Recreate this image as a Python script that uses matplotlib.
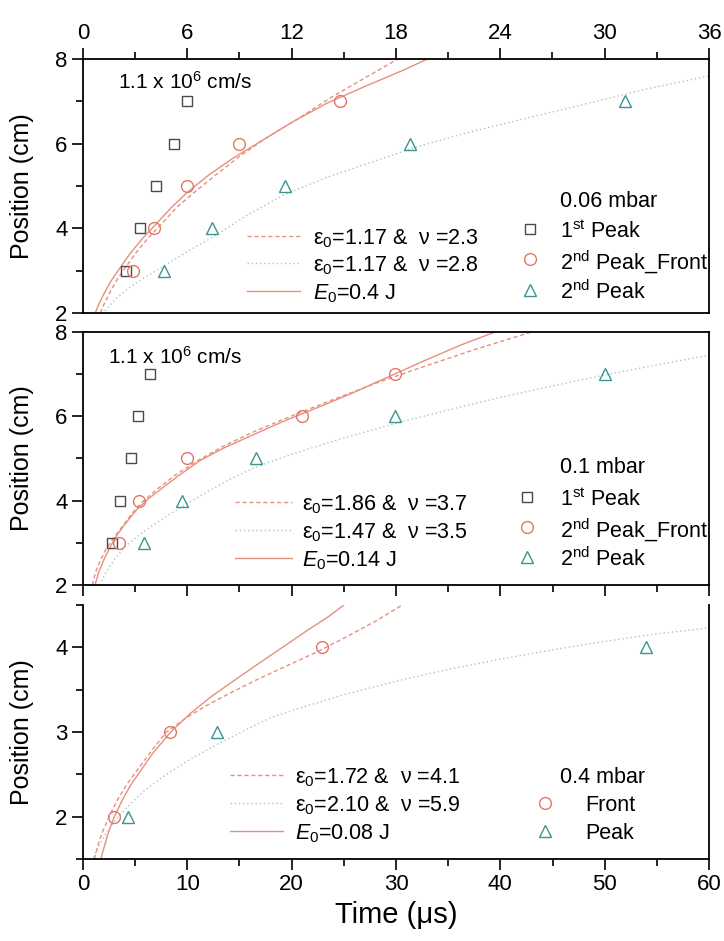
import matplotlib
matplotlib.use("Agg")
import matplotlib.pyplot as plt
from matplotlib.lines import Line2D
from matplotlib.ticker import MultipleLocator, FixedLocator

plt.rcParams['font.family'] = ['Liberation Sans', 'DejaVu Sans']
plt.rcParams['mathtext.fontset'] = 'custom'
plt.rcParams['mathtext.rm'] = 'Liberation Sans'
plt.rcParams['mathtext.it'] = 'Liberation Sans:italic'
plt.rcParams['mathtext.bf'] = 'Liberation Sans:bold'

# ---------------- data ----------------
pos_top = [3, 4, 5, 6, 7]
# 0.06 mbar (time axis 0-36 us)
t06_first = [2.45, 3.28, 4.21, 5.21, 5.98]
t06_front = [2.86, 4.08, 5.98, 8.99, 14.78]
t06_second = [4.66, 7.44, 11.62, 18.8, 31.17]
# fitted curves, points
c06_solid_t = [0.7, 0.9, 1.2, 1.6, 2.1, 2.7, 3.4, 4.2, 5.1, 6.0, 7.2, 8.6, 10.2, 12.0, 14.0, 16.2, 18.5, 19.8]
c06_solid_y = [2.0, 2.2, 2.45, 2.75, 3.05, 3.4, 3.75, 4.1, 4.5, 4.85, 5.25, 5.65, 6.05, 6.5, 6.95, 7.35, 7.75, 8.0]
c06_dash_t = [1.0, 1.2, 1.5, 1.9, 2.4, 3.0, 3.7, 4.5, 5.4, 6.4, 7.6, 9.0, 10.6, 12.4, 14.3, 16.2, 18.1]
c06_dash_y = [2.0, 2.2, 2.45, 2.75, 3.05, 3.4, 3.75, 4.1, 4.5, 4.85, 5.25, 5.7, 6.15, 6.6, 7.1, 7.55, 8.0]
c06_dot_t = [1.27, 1.8, 2.5, 3.4, 4.6, 6.0, 7.5, 9.4, 11.6, 14.0, 16.5, 19.0, 22.0, 25.5, 29.0, 32.5, 36.0]
c06_dot_y = [2.05, 2.3, 2.55, 2.8, 3.1, 3.45, 3.8, 4.3, 4.8, 5.2, 5.55, 5.9, 6.25, 6.6, 6.95, 7.3, 7.6]

# 0.1 mbar (time axis 0-60 us)
t01_first = [2.75, 3.55, 4.6, 5.24, 6.42]
t01_front = [3.48, 5.37, 9.94, 20.97, 29.9]
t01_second = [5.85, 9.46, 16.6, 29.9, 50.05]
c01_solid_t = [1.15, 1.5, 2.0, 2.6, 3.3, 4.2, 5.2, 6.3, 7.6, 9.2, 11.2, 13.5, 16.2, 19.2, 22.4, 25.8, 29.4, 33.0, 36.3, 39.5]
c01_solid_y = [2.0, 2.3, 2.6, 2.9, 3.2, 3.5, 3.8, 4.05, 4.3, 4.6, 4.95, 5.25, 5.55, 5.88, 6.2, 6.55, 6.95, 7.35, 7.7, 8.0]
c01_dash_t = [0.9, 1.2, 1.6, 2.2, 2.9, 3.8, 4.7, 5.6, 7.0, 8.8, 11.0, 13.5, 16.5, 20.1, 24.0, 28.0, 32.3, 37.5, 43.0]
c01_dash_y = [2.0, 2.3, 2.55, 2.85, 3.1, 3.4, 3.7, 3.95, 4.25, 4.6, 4.95, 5.3, 5.65, 6.02, 6.4, 6.78, 7.15, 7.58, 8.0]
c01_dot_t = [1.6, 2.2, 3.0, 4.0, 5.2, 6.6, 8.0, 9.5, 11.5, 14.0, 16.6, 20.0, 24.5, 29.9, 35.0, 40.0, 45.0, 50.0, 55.0, 60.0]
c01_dot_y = [2.0, 2.3, 2.6, 2.9, 3.15, 3.4, 3.63, 3.86, 4.15, 4.5, 4.8, 5.1, 5.45, 5.83, 6.15, 6.45, 6.72, 6.98, 7.22, 7.45]

# 0.4 mbar
pos_bot = [2, 3, 4]
t04_front = [3.0, 8.3, 22.9]
t04_peak = [4.3, 12.8, 54.0]
c04_solid_t = [1.7, 2.0, 2.4, 3.0, 3.7, 4.5, 5.5, 6.7, 8.4, 10.3, 12.2, 14.1, 16.5, 19.0, 21.5, 23.5, 25.0]
c04_solid_y = [1.5, 1.63, 1.8, 2.0, 2.18, 2.36, 2.54, 2.75, 3.0, 3.22, 3.41, 3.575, 3.78, 3.99, 4.2, 4.36, 4.5]
c04_dash_t = [1.1, 1.4, 1.8, 2.5, 3.3, 4.3, 5.5, 6.7, 8.0, 9.8, 11.8, 14.1, 16.7, 19.5, 22.5, 25.5, 28.2, 30.6]
c04_dash_y = [1.5, 1.65, 1.8, 2.0, 2.2, 2.4, 2.6, 2.8, 3.0, 3.16, 3.31, 3.46, 3.62, 3.78, 3.95, 4.14, 4.32, 4.5]
c04_dot_t = [1.0, 1.5, 2.2, 3.1, 4.3, 5.8, 8.0, 10.3, 12.8, 15.5, 18.2, 21.5, 25.0, 30.0, 35.0, 40.0, 45.0, 50.0, 55.0, 60.0]
c04_dot_y = [1.52, 1.65, 1.8, 1.96, 2.12, 2.3, 2.5, 2.68, 2.85, 3.02, 3.18, 3.31, 3.44, 3.6, 3.74, 3.86, 3.97, 4.07, 4.16, 4.23]

# ---------------- style ----------------
W, H = 724, 941
C_SQ = '#4a4a4a'
C_CI = '#e07866'
C_TR = '#3a9494'
C_RED = '#e6907e'
C_DOT = '#a8c4c4'
FS_TICK = 16
FS_LAB = 18
FS_LEG = 15.5

fig = plt.figure(figsize=(W / 100, H / 100), dpi=100)


def rect(top, bot):
    return [83 / W, 1 - bot / H, (709 - 83) / W, (bot - top) / H]


ax1 = fig.add_axes(rect(59, 313))
ax2 = fig.add_axes(rect(332, 585))
ax3 = fig.add_axes(rect(605, 859))

for ax in (ax1, ax2, ax3):
    for s in ax.spines.values():
        s.set_linewidth(1.3)
    ax.tick_params(which='major', direction='out', length=8, width=1.2, labelsize=FS_TICK, pad=3)
    ax.tick_params(which='minor', direction='out', length=5, width=1.2)
    ax.tick_params(right=False, which='both')

# top
ax1.set_xlim(0, 36)
ax1.set_ylim(2, 8)
ax1.xaxis.tick_top()
ax1.xaxis.set_major_locator(MultipleLocator(6))
ax1.xaxis.set_minor_locator(MultipleLocator(3))
ax1.tick_params(axis='x', which='both', top=True, bottom=False, labeltop=True, labelbottom=False)
ax1.yaxis.set_major_locator(MultipleLocator(2))
ax1.yaxis.set_minor_locator(MultipleLocator(1))

# middle
ax2.set_xlim(0, 60)
ax2.set_ylim(2, 8)
ax2.xaxis.set_major_locator(MultipleLocator(10))
ax2.xaxis.set_minor_locator(MultipleLocator(5))
ax2.tick_params(axis='x', which='both', labelbottom=False, top=False)
ax2.yaxis.set_major_locator(MultipleLocator(2))
ax2.yaxis.set_minor_locator(MultipleLocator(1))

# bottom
ax3.set_xlim(0, 60)
ax3.set_ylim(1.5, 4.5)
ax3.xaxis.set_major_locator(MultipleLocator(10))
ax3.xaxis.set_minor_locator(MultipleLocator(5))
ax3.tick_params(axis='x', which='both', top=False)
ax3.yaxis.set_major_locator(FixedLocator([2, 3, 4]))
ax3.yaxis.set_minor_locator(FixedLocator([1.5, 2.5, 3.5, 4.5]))
ax3.spines['top'].set_visible(False)

for ax in (ax1, ax2, ax3):
    ax.set_ylabel('Position (cm)', fontsize=FS_LAB)
    ax.yaxis.set_label_coords(-(83 - 22) / 626, 0.5)
    ax.yaxis.label.set_va('center')

ax3.set_xlabel('Time (\u03bcs)', fontsize=21)
ax3.xaxis.set_label_coords(0.5, -(915 - 859) / 254)
ax3.xaxis.label.set_va('center')

lw = 1.0
DASH = (0, (3, 2))
DOT = (0, (1, 2))
# curves
ax1.plot(c06_dash_t, c06_dash_y, color=C_RED, lw=lw, ls=DASH)
ax1.plot(c06_dot_t, c06_dot_y, color=C_DOT, lw=lw, ls=DOT)
ax1.plot(c06_solid_t, c06_solid_y, color=C_RED, lw=lw)
ax2.plot(c01_dash_t, c01_dash_y, color=C_RED, lw=lw, ls=DASH)
ax2.plot(c01_dot_t, c01_dot_y, color=C_DOT, lw=lw, ls=DOT)
ax2.plot(c01_solid_t, c01_solid_y, color=C_RED, lw=lw)
ax3.plot(c04_dash_t, c04_dash_y, color=C_RED, lw=lw, ls=DASH)
ax3.plot(c04_dot_t, c04_dot_y, color=C_DOT, lw=lw, ls=DOT)
ax3.plot(c04_solid_t, c04_solid_y, color=C_RED, lw=lw)

mk = dict(ls='none', mfc='none', mew=1.0, clip_on=False)
SQ = dict(marker='s', ms=7.5, mec=C_SQ, **mk)
CI = dict(marker='o', ms=8.5, mec=C_CI, **mk)
TR = dict(marker='^', ms=9, mec=C_TR, **mk)

ax1.plot(t06_first, pos_top, **SQ)
ax1.plot(t06_front, pos_top, **CI)
ax1.plot(t06_second, pos_top, **TR)
ax2.plot(t01_first, pos_top, **SQ)
ax2.plot(t01_front, pos_top, **CI)
ax2.plot(t01_second, pos_top, **TR)
ax3.plot(t04_front, pos_bot, **CI)
ax3.plot(t04_peak, pos_bot, **TR)


# ---------------- manual legends (pixel placement) ----------------
def fx(x):
    return x / W


def fy(y):
    return 1 - y / H


def leg_line(x0, x1, y, **kw):
    fig.add_artist(Line2D([fx(x0), fx(x1)], [fy(y), fy(y)], transform=fig.transFigure, **kw))


def leg_marker(x, y, style):
    st = dict(style)
    st.pop('clip_on', None)
    fig.add_artist(Line2D([fx(x)], [fy(y)], transform=fig.transFigure, **st))


def leg_text(x, y, s, fs=FS_LEG):
    fig.text(fx(x), fy(y), s, fontsize=fs, ha='left', va='center_baseline')


def curve_legend(x0, x1, xt, ys, labels):
    styles = [dict(color=C_RED, lw=lw, ls=DASH),
              dict(color=C_DOT, lw=lw, ls=DOT),
              dict(color=C_RED, lw=lw)]
    for y, lab, st in zip(ys, labels, styles):
        leg_line(x0, x1, y, **st)
        leg_text(xt, y, lab)


def eps(e, n):
    return '\u03b5$_{\\mathregular{0}}$=' + e + ' &  \u03bd =' + n


curve_legend(247, 300, 313, [236, 263, 291],
             [eps('1.17', '2.3'), eps('1.17', '2.8'), r'$E_0$=0.4 J'])
curve_legend(235, 292, 302, [502, 530, 558],
             [eps('1.86', '3.7'), eps('1.47', '3.5'), r'$E_0$=0.14 J'])
curve_legend(230, 283, 295, [775, 803, 831],
             [eps('1.72', '4.1'), eps('2.10', '5.9'), r'$E_0$=0.08 J'])

PEAKS = ['1$^{\\mathregular{st}}$ Peak', '2$^{\\mathregular{nd}}$ Peak_Front', '2$^{\\mathregular{nd}}$ Peak']

leg_text(560, 199, '0.06 mbar')
for y, lab, st in zip([229, 259, 290], PEAKS, [SQ, CI, TR]):
    leg_marker(530, y, st)
    leg_text(560, y, lab)

leg_text(560, 465, '0.1 mbar')
for y, lab, st in zip([497, 527, 557], PEAKS, [SQ, CI, TR]):
    leg_marker(527, y, st)
    leg_text(560, y, lab)

leg_text(560, 775, '0.4 mbar')
for y, lab, st in zip([803, 831], ['Front', 'Peak'], [CI, TR]):
    leg_marker(545, y, st)
    leg_text(585, y, lab)

# velocity annotations
fig.text(fx(118), fy(80), '1.1 x 10$^{\\mathregular{6}}$ cm/s', fontsize=15, ha='left', va='center_baseline')
fig.text(fx(108), fy(355), '1.1 x 10$^{\\mathregular{6}}$ cm/s', fontsize=15, ha='left', va='center_baseline')

fig.savefig('out.png', dpi=100)
